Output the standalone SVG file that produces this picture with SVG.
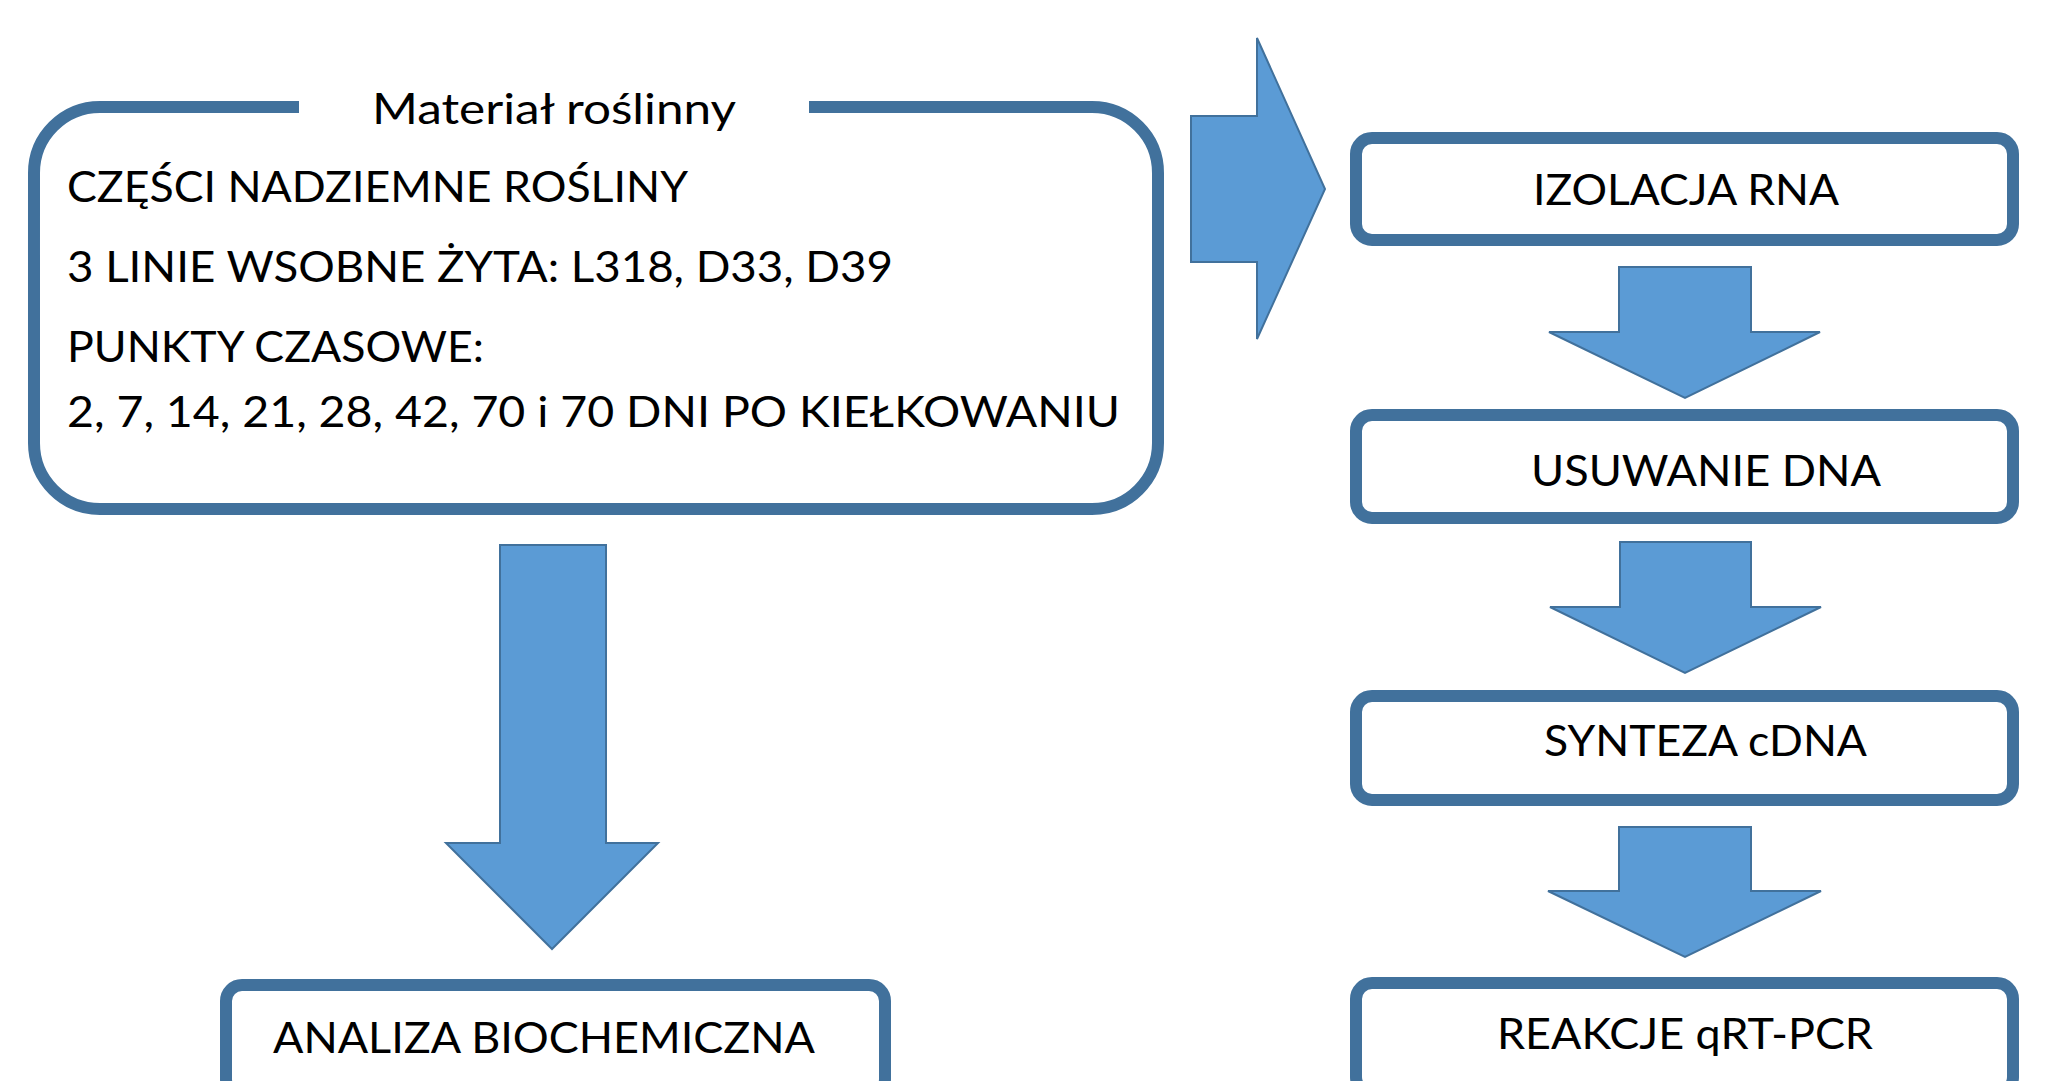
<svg xmlns="http://www.w3.org/2000/svg" width="2055" height="1081" viewBox="0 0 2055 1081">
<style>
.box{fill:#FFFFFF;stroke:#41719C;stroke-width:12}
.frame{fill:none;stroke:#41719C;stroke-width:12;stroke-linecap:butt}
.arrow{fill:#5B9BD5;stroke:#41719C;stroke-width:2;stroke-linejoin:miter}
.t{font-family:Lato,"Open Sans","Liberation Sans",sans-serif;font-size:43px;fill:#000000}
</style>
<rect width="2055" height="1081" fill="#FFFFFF"/>
<g id="material">
<path class="box" style="stroke:none" d="M 100 107 H 1092 A 66 66 0 0 1 1158 173 V 443 A 66 66 0 0 1 1092 509 H 100 A 66 66 0 0 1 34 443 V 173 A 66 66 0 0 1 100 107 Z"/>
<path class="frame" d="M 809 107 H 1092 A 66 66 0 0 1 1158 173 V 443 A 66 66 0 0 1 1092 509 H 100 A 66 66 0 0 1 34 443 V 173 A 66 66 0 0 1 100 107 H 299"/>
<text class="t" x="372" y="124" textLength="364" lengthAdjust="spacingAndGlyphs">Materiał roślinny</text>
<text class="t" x="67" y="202" textLength="621" lengthAdjust="spacingAndGlyphs">CZĘŚCI NADZIEMNE ROŚLINY</text>
<text class="t" x="67" y="282" textLength="826" lengthAdjust="spacingAndGlyphs">3 LINIE WSOBNE ŻYTA: L318, D33, D39</text>
<text class="t" x="67" y="362" textLength="417" lengthAdjust="spacingAndGlyphs">PUNKTY CZASOWE:</text>
<text class="t" x="67" y="427" textLength="1053" lengthAdjust="spacingAndGlyphs">2, 7, 14, 21, 28, 42, 70 i 70 DNI PO KIEŁKOWANIU</text>
</g>
<g id="izolacja">
<rect class="box" x="1356" y="138" width="657" height="102" rx="16"/>
<text class="t" x="1533" y="205" textLength="306" lengthAdjust="spacingAndGlyphs">IZOLACJA RNA</text>
</g>
<g id="usuwanie">
<rect class="box" x="1356" y="415" width="657" height="103" rx="16"/>
<text class="t" x="1531" y="486" textLength="350" lengthAdjust="spacingAndGlyphs">USUWANIE DNA</text>
</g>
<g id="synteza">
<rect class="box" x="1356" y="696" width="657" height="104" rx="16"/>
<text class="t" x="1544" y="756" textLength="323" lengthAdjust="spacingAndGlyphs">SYNTEZA cDNA</text>
</g>
<g id="reakcje">
<rect class="box" x="1356" y="983" width="657" height="110" rx="16"/>
<text class="t" x="1497" y="1049" textLength="376" lengthAdjust="spacingAndGlyphs">REAKCJE qRT-PCR</text>
</g>
<g id="analiza">
<rect class="box" x="226" y="985" width="659" height="110" rx="16"/>
<text class="t" x="273" y="1053" textLength="542" lengthAdjust="spacingAndGlyphs">ANALIZA BIOCHEMICZNA</text>
</g>
<g id="connectors">
<polygon class="arrow" points="1191,116 1257,116 1257,38 1325,189 1257,339 1257,262 1191,262"/>
<polygon class="arrow" points="500,545 606,545 606,843 658,843 552,949 446,843 500,843"/>
<polygon class="arrow" points="1619,267 1751,267 1751,332 1820,332 1685,398 1549,332 1619,332"/>
<polygon class="arrow" points="1620,542 1751,542 1751,607 1821,607 1685,673 1550,607 1620,607"/>
<polygon class="arrow" points="1619,827 1751,827 1751,891 1821,891 1685,957 1548,891 1619,891"/>
</g>
</svg>
